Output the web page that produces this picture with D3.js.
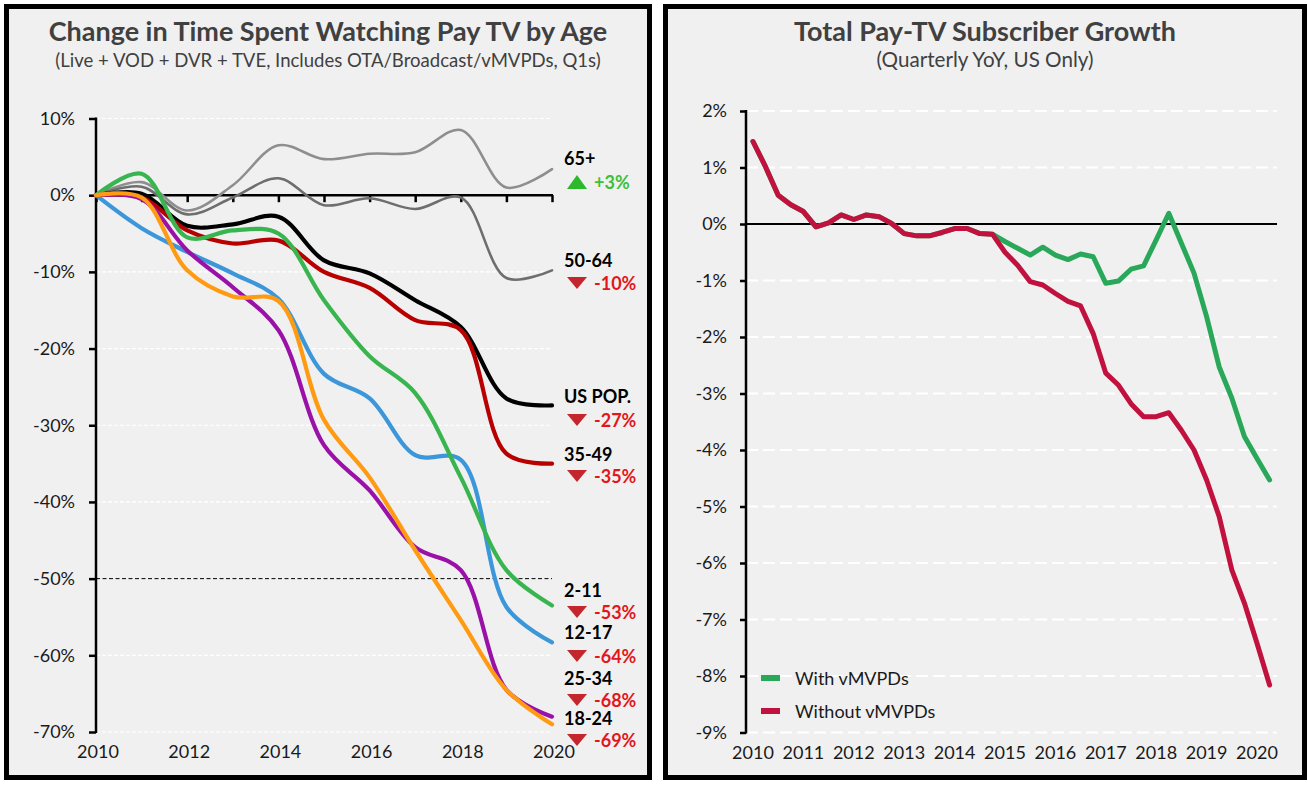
<!DOCTYPE html>
<html><head><meta charset="utf-8">
<script src="https://cdn.jsdelivr.net/npm/d3@7"></script>
<style>
html,body{margin:0;padding:0;background:#ffffff;}
svg{display:block;font-family:Lato,"Open Sans",sans-serif;}
</style></head>
<body>
<svg id="c" width="1308" height="785"></svg>
<script>
// ---------------- DATA ----------------
const leftTitle = "Change in Time Spent Watching Pay TV by Age";
const leftSubtitle = "(Live + VOD + DVR + TVE, Includes OTA/Broadcast/vMVPDs, Q1s)";
const rightTitle = "Total Pay-TV Subscriber Growth";
const rightSubtitle = "(Quarterly YoY, US Only)";

const years = [2010,2011,2012,2013,2014,2015,2016,2017,2018,2019,2020];
const yearLabelsLeft = [2010,2012,2014,2016,2018,2020];
const leftYTicks = [10,0,-10,-20,-30,-40,-50,-60,-70];

const age65plus = [0, 1.7, -2.0, 1.3, 6.5, 4.7, 5.4, 5.6, 8.5, 1.0, 3.4];
const age50to64 = [0, 1.1, -2.5, -0.3, 2.2, -1.3, -0.4, -1.8, -0.3, -10.8, -9.8];
const usPop     = [0, 0.2, -4.0, -3.8, -2.8, -8.5, -10.2, -13.7, -17.2, -26.5, -27.4];
const age35to49 = [0, -0.3, -4.6, -6.3, -5.9, -10.0, -12.1, -16.3, -17.6, -33.7, -35.0];
const age2to11  = [0, 2.8, -5.5, -4.6, -5.0, -13.7, -21.0, -25.8, -36.8, -48.9, -53.5];
const age12to17 = [0, -4.3, -7.4, -10.2, -13.5, -23.3, -26.5, -33.9, -34.5, -53.7, -58.3];
const age25to34 = [0, -0.5, -7.2, -12.0, -17.6, -32.6, -38.5, -45.9, -48.9, -64.5, -68.0];
const age18to24 = [0, -0.3, -9.8, -13.2, -13.8, -29.3, -36.8, -46.3, -55.4, -64.5, -69.0];

const seriesNames = ["65+","50-64","US POP.","35-49","2-11","12-17","25-34","18-24"];
const seriesChange = ["+3%","-10%","-27%","-35%","-53%","-64%","-68%","-69%"];

const rightYears = [2010,2011,2012,2013,2014,2015,2016,2017,2018,2019,2020];
const rightYTicks = [2,1,0,-1,-2,-3,-4,-5,-6,-7,-8,-9];
const withoutVMVPDs = [1.46, 1.01, 0.51, 0.34, 0.22, -0.05, 0.02, 0.16, 0.08, 0.16, 0.13, 0.01,
  -0.17, -0.21, -0.21, -0.15, -0.08, -0.08, -0.17, -0.18, -0.50, -0.73, -1.02, -1.08,
  -1.23, -1.37, -1.45, -1.94, -2.64, -2.85, -3.18, -3.41, -3.41, -3.34, -3.65, -4.00,
  -4.53, -5.18, -6.12, -6.71, -7.42, -8.16];
const withVMVPDs = [1.46, 1.01, 0.51, 0.34, 0.22, -0.05, 0.02, 0.16, 0.08, 0.16, 0.13, 0.01,
  -0.17, -0.21, -0.21, -0.15, -0.08, -0.08, -0.17, -0.18, -0.31, -0.43, -0.55, -0.41,
  -0.55, -0.63, -0.53, -0.58, -1.05, -1.01, -0.80, -0.74, -0.28, 0.19, -0.34, -0.87,
  -1.64, -2.53, -3.08, -3.76, -4.15, -4.53];
const legendLabels = ["With vMVPDs","Without vMVPDs"];

// ---------------- STYLE / LAYOUT ----------------
const leftSeries = [
  {vals: age65plus, color:"#8e8e8e", w:2.6},
  {vals: age50to64, color:"#6e6e6e", w:2.6},
  {vals: usPop,     color:"#000000", w:4.2},
  {vals: age35to49, color:"#b80000", w:4.2},
  {vals: age12to17, color:"#3b97da", w:4.2},
  {vals: age2to11,  color:"#39b54f", w:4.2},
  {vals: age25to34, color:"#9a11a8", w:4.2},
  {vals: age18to24, color:"#ff9b12", w:4.2}
];
const labelNameY = [165, 267, 403, 461, 597, 639, 685, 725];
const labelPctY  = [189, 290, 427, 483, 619, 663, 707, 747];

const svg = d3.select("#c");
const textCol = "#1a1a1a";
const titleCol = "#404040";

// panels
svg.append("rect").attr("x",6.5).attr("y",6.5).attr("width",643).attr("height",771)
  .attr("fill","#f0f0f0").attr("stroke","#000").attr("stroke-width",5);
svg.append("rect").attr("x",665.5).attr("y",6.5).attr("width",639).attr("height",771)
  .attr("fill","#f0f0f0").attr("stroke","#000").attr("stroke-width",5);

function fitText(sel, width){
  const l = sel.node().getComputedTextLength();
  const fs = parseFloat(sel.attr("font-size"));
  sel.attr("font-size", fs*width/l);
}

// titles
fitText(svg.append("text").attr("x",328).attr("y",41).attr("text-anchor","middle")
  .attr("font-size",27).attr("font-weight","bold").attr("fill",titleCol).text(leftTitle), 559);
fitText(svg.append("text").attr("x",328).attr("y",67).attr("text-anchor","middle")
  .attr("font-size",18).attr("fill",titleCol).text(leftSubtitle), 546);
fitText(svg.append("text").attr("x",985).attr("y",41).attr("text-anchor","middle")
  .attr("font-size",27).attr("font-weight","bold").attr("fill",titleCol).text(rightTitle), 382);
fitText(svg.append("text").attr("x",985).attr("y",67).attr("text-anchor","middle")
  .attr("font-size",18).attr("fill",titleCol).text(rightSubtitle), 217);

// ---------------- LEFT CHART ----------------
const xL = d3.scaleLinear().domain([2010,2020]).range([96,552]);
const yL = d3.scaleLinear().domain([10,-70]).range([118.5,732]);
const gL = svg.append("g");

// gridlines
gL.selectAll("line.grid").data(leftYTicks.filter(d=>d!==0 && d!==-50)).join("line")
  .attr("x1",xL(2010)).attr("x2",xL(2020)).attr("y1",d=>yL(d)).attr("y2",d=>yL(d))
  .attr("stroke","#ffffff").attr("stroke-width",1.2).attr("stroke-dasharray","4,2");
gL.append("line").attr("x1",xL(2010)).attr("x2",xL(2020)).attr("y1",yL(-50)).attr("y2",yL(-50))
  .attr("stroke","#000").attr("stroke-width",1).attr("stroke-dasharray","4,2.5");

// y axis
const yAxisL = d3.axisLeft(yL).tickValues(leftYTicks).tickSize(7).tickPadding(14).tickFormat(d=>d+"%");
const gy = gL.append("g").attr("transform",`translate(${xL(2010)},0)`).call(yAxisL);
gy.select(".domain").remove();
gy.selectAll(".tick line").attr("stroke","#000").attr("stroke-width",2.5);
gy.selectAll(".tick text").attr("font-size",18).attr("fill",textCol).attr("font-family","Lato");
gL.append("line").attr("x1",xL(2010)).attr("x2",xL(2010)).attr("y1",yL(10)-1).attr("y2",yL(-70)+1)
  .attr("stroke","#000").attr("stroke-width",2.5);

// zero axis with ticks
const xAxisL = d3.axisBottom(xL).tickValues(years).tickSize(7).tickFormat("");
const gx = gL.append("g").attr("transform",`translate(0,${yL(0)})`).call(xAxisL);
gx.select(".domain").remove();
gx.selectAll(".tick line").attr("stroke","#000").attr("stroke-width",2.5);
gL.append("line").attr("x1",xL(2010)).attr("x2",xL(2020)+1).attr("y1",yL(0)).attr("y2",yL(0))
  .attr("stroke","#000").attr("stroke-width",2.5);

// x labels
gL.selectAll("text.xl").data(yearLabelsLeft).join("text")
  .attr("x",d=>xL(d)+2).attr("y",758).attr("text-anchor","middle")
  .attr("font-size",18).attr("fill",textCol).text(d=>d);

// lines
const lineL = d3.line().x((d,i)=>xL(years[i])).y(d=>yL(d)).curve(d3.curveCatmullRom.alpha(0.5));
gL.selectAll("path.s").data(leftSeries).join("path")
  .attr("d",d=>lineL(d.vals)).attr("fill","none").attr("stroke",d=>d.color)
  .attr("stroke-width",d=>d.w).attr("stroke-linejoin","round").attr("stroke-linecap","round");

// end labels
seriesNames.forEach((n,i)=>{
  gL.append("text").attr("x",564).attr("y",labelNameY[i]).attr("font-size",18)
    .attr("font-weight","bold").attr("fill","#000").text(n);
  const up = seriesChange[i].startsWith("+");
  const ty = labelPctY[i];
  const tri = up
    ? `M567,${ty} L587,${ty} L577,${ty-14} Z`
    : `M567,${ty-13} L587,${ty-13} L577,${ty-1} Z`;
  gL.append("path").attr("d",tri).attr("fill", up ? "#2db82d" : "#c4262e");
  gL.append("text").attr("x",594).attr("y",ty).attr("font-size",18)
    .attr("font-weight","bold").attr("fill", up ? "#3cc03c" : "#e3171b").text(seriesChange[i]);
});

// ---------------- RIGHT CHART ----------------
const xR = d3.scaleLinear().domain([2010,2020]).range([753,1257]);
const yR = d3.scaleLinear().domain([2,-9]).range([111,732.5]);
const gR = svg.append("g");
const xStart = 746, xEnd = 1277;

gR.selectAll("line.grid").data(rightYTicks.filter(d=>d!==0)).join("line")
  .attr("x1",xStart).attr("x2",xEnd).attr("y1",d=>yR(d)).attr("y2",d=>yR(d))
  .attr("stroke","#ffffff").attr("stroke-width",2).attr("stroke-dasharray","12,5");
gR.append("line").attr("x1",xStart).attr("x2",xEnd).attr("y1",yR(0)).attr("y2",yR(0))
  .attr("stroke","#000").attr("stroke-width",2);

const yAxisR = d3.axisLeft(yR).tickValues(rightYTicks).tickSize(6).tickPadding(13).tickFormat(d=>d+"%");
const gyr = gR.append("g").attr("transform",`translate(${xStart},0)`).call(yAxisR);
gyr.select(".domain").remove();
gyr.selectAll(".tick line").attr("stroke","#000").attr("stroke-width",2.5);
gyr.selectAll(".tick text").attr("font-size",18).attr("fill",textCol).attr("font-family","Lato");
gR.append("line").attr("x1",xStart).attr("x2",xStart).attr("y1",yR(2)-1).attr("y2",yR(-9)+1)
  .attr("stroke","#000").attr("stroke-width",2.5);

gR.selectAll("text.xl").data(rightYears).join("text")
  .attr("x",d=>xR(d)).attr("y",759).attr("text-anchor","middle")
  .attr("font-size",18).attr("fill",textCol).text(d=>d);

const lineR = d3.line().x((d,i)=>xR(2010+i/4)).y(d=>yR(d)).curve(d3.curveLinear);
const rightSeries = [
  {vals: withVMVPDs, color:"#2aa85a"},
  {vals: withoutVMVPDs, color:"#c1123f"}
];
gR.selectAll("path.s").data(rightSeries).join("path")
  .attr("d",d=>lineR(d.vals)).attr("fill","none").attr("stroke",d=>d.color)
  .attr("stroke-width",5).attr("stroke-linejoin","round").attr("stroke-linecap","round");

// legend
legendLabels.forEach((l,i)=>{
  const cy = 678 + i*33;
  gR.append("rect").attr("x",761).attr("y",cy-3).attr("width",19).attr("height",6)
    .attr("fill",rightSeries[i].color);
  gR.append("text").attr("x",795).attr("y",cy+7).attr("font-size",18)
    .attr("fill",textCol).text(l);
});
</script>
</body></html>
